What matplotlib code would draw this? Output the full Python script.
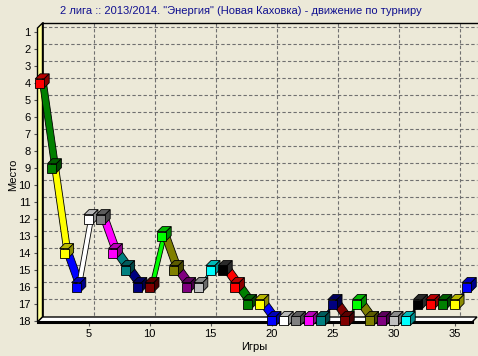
import numpy as np
import matplotlib
matplotlib.use("Agg")
import matplotlib.pyplot as plt
from matplotlib.patches import Polygon
from matplotlib.transforms import IdentityTransform, offset_copy

# place after each game (1 = top of table)
games = list(range(1, 37))
places = [4, 9, 14, 16, 12, 12, 14, 15, 16, 16, 13, 15, 16, 16, 15, 15, 16, 17,
          17, 18, 18, 18, 18, 18, 17, 18, 17, 18, 18, 18, 18, 17, 17, 17, 17, 16]
palette = ["#ff0000", "#008000", "#ffff00", "#0000ff", "#ffffff", "#808080",
           "#ff00ff", "#008080", "#000080", "#800000", "#00ff00", "#808000",
           "#800080", "#c0c0c0", "#00ffff", "#000000"]
x_ticks = [5, 10, 15, 20, 25, 30, 35]
y_ticks = list(range(1, 19))
title = '2 лига :: 2013/2014. "Энергия" (Новая Каховка) - движение по турниру'

bg = "#ece9d8"
depth = 5  # px, 3D offset of the walls
sdepth = 6  # px, depth of the series ribbon
plt.rcParams["font.family"] = ["Liberation Sans", "DejaVu Sans"]

fig = plt.figure(figsize=(4.78, 3.56), dpi=100)
fig.patch.set_facecolor(bg)
W, H = 478, 356
ax = fig.add_axes([37.5 / W, (H - 322) / H, (472 - 37.5) / W, (322 - 28) / H])
ax.set_facecolor("none")
ax.set_xlim(0.82, 36.43)
ax.set_ylim(18.06, 0.74)
for s in ax.spines.values():
    s.set_visible(False)

x0, x1 = ax.get_xlim()
ytop, ybot = ax.get_ylim()[1], ax.get_ylim()[0]


def px(x, y, back=False):
    p = ax.transData.transform((x, y))
    if back:
        p = p + np.array([depth, depth])
    return p


def poly(pts, fc, ec="black", lw=0.7, z=1):
    fig.add_artist(Polygon(pts, closed=True, facecolor=fc, edgecolor=ec, lw=lw,
                           transform=IdentityTransform(), zorder=z))


# left wall and floor
poly([px(x0, ytop), px(x0, ytop, True), px(x0, ybot, True), px(x0, ybot)], "#ffff99", lw=1.0, z=1)
poly([px(x0, ybot), px(x0, ybot, True), px(x1, ybot, True), px(x1, ybot)], "white", lw=1.0, z=1)
fl = np.array([px(x0, ybot), px(x1, ybot)])
fig.add_artist(plt.Line2D(fl[:, 0], fl[:, 1], color="black", lw=2.2,
                          transform=IdentityTransform(), zorder=1.5))

# back wall grid
back = offset_copy(ax.transData, fig=fig, x=depth, y=depth, units="dots")
for p in y_ticks[:-1]:
    ax.plot([x0, x1], [p, p], transform=back, ls=(0, (3, 2)), color="#707070",
            lw=0.8, clip_on=False, zorder=1)
for g in x_ticks:
    ax.plot([g, g], [ytop, ybot], transform=back, ls=(0, (3, 2)), color="#707070",
            lw=0.8, clip_on=False, zorder=1)
ax.plot([x0, x1], [ytop, ytop], transform=back, color="black", lw=1.0,
        clip_on=False, zorder=1)
ax.plot([x0, x0], [ytop, ybot], transform=back, color="black", lw=1.2,
        clip_on=False, zorder=1)


def shade(c, f):
    if c == "#000000":
        return "#2a2a2a"
    rgb = np.array(matplotlib.colors.to_rgb(c))
    return tuple(rgb * f)


# ribbons between games
sd = np.array([sdepth, sdepth])
for i in range(1, len(games)):
    c = palette[i % len(palette)]
    a = px(games[i - 1], places[i - 1])
    b = px(games[i], places[i])
    poly([a, b, b + sd, a + sd], c, lw=0.6, z=3)

# cube markers
h = 4.5
for i, (g, p) in enumerate(zip(games, places)):
    c = palette[i % len(palette)]
    cx, cy = px(g, p)
    bl, br = np.array([cx - h, cy - h]), np.array([cx + h, cy - h])
    tl, tr = np.array([cx - h, cy + h]), np.array([cx + h, cy + h])
    d = np.array([depth, depth])
    poly([tl, tr, tr + d, tl + d], shade(c, 0.72), lw=0.6, z=4)
    poly([br, tr, tr + d, br + d], shade(c, 0.55), lw=0.6, z=4)
    poly([bl, br, tr, tl], c, lw=0.6, z=4)

ax.set_xticks(x_ticks)
ax.set_yticks(y_ticks)
ax.tick_params(axis="both", labelsize=8, length=3, width=0.8, color="#555555", pad=2)
ax.set_xlabel("Игры", fontsize=8, labelpad=2)
ax.set_ylabel("Место", fontsize=8, labelpad=0)
fig.text(0.503, 1 - 11.5 / H, title, ha="center", va="center", fontsize=8, color="#101090")

fig.savefig("out.png", dpi=100, facecolor=bg)
